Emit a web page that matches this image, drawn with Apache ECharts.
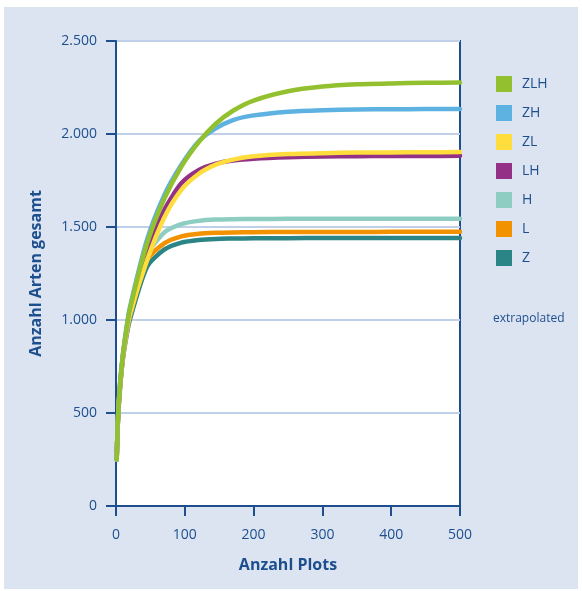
<!DOCTYPE html>
<html>
<head>
<meta charset="utf-8">
<script src="https://cdn.jsdelivr.net/npm/echarts@6/dist/echarts.min.js"></script>
<style>
html,body{margin:0;padding:0;background:#fff;}
#chart{width:582px;height:591px;}
</style>
</head>
<body>
<div id="chart"></div>
<script>
// Data
var plots = [1, 3, 6, 10, 15, 20, 45, 70, 95, 120, 145, 170, 200, 250, 300, 350, 400, 450, 500];
var seriesNames = ['ZLH', 'ZH', 'ZL', 'LH', 'H', 'L', 'Z'];
var ZLH = [250, 485, 660, 810, 945, 1055, 1410, 1650, 1825, 1955, 2055, 2125, 2180, 2230, 2255, 2267, 2272, 2275, 2277];
var ZH  = [250, 490, 665, 815, 955, 1065, 1430, 1670, 1835, 1960, 2030, 2075, 2100, 2120, 2128, 2132, 2133, 2134, 2135];
var ZL  = [250, 480, 650, 800, 930, 1030, 1320, 1550, 1700, 1785, 1835, 1862, 1880, 1892, 1897, 1900, 1901, 1902, 1903];
var LH  = [250, 480, 655, 805, 935, 1040, 1365, 1590, 1735, 1805, 1840, 1857, 1867, 1875, 1879, 1881, 1882, 1882, 1883];
var H   = [250, 478, 648, 798, 925, 1025, 1345, 1470, 1515, 1533, 1540, 1542, 1543, 1544, 1544, 1544, 1544, 1544, 1544];
var L   = [250, 476, 645, 795, 920, 1015, 1320, 1412, 1450, 1464, 1469, 1471, 1472, 1473, 1473, 1473, 1474, 1474, 1474];
var Z   = [250, 472, 640, 790, 910, 1000, 1285, 1378, 1416, 1430, 1436, 1438, 1440, 1440, 1441, 1441, 1441, 1441, 1441];
var seriesColors = ['#93c02f', '#5eb2e1', '#fedd3c', '#933187', '#8ecec2', '#f39200', '#2b8586'];
var yTicks = [0, 500, 1000, 1500, 2000, 2500];
var xTicks = [0, 100, 200, 300, 400, 500];

var seriesData = {ZLH: ZLH, ZH: ZH, ZL: ZL, LH: LH, H: H, L: L, Z: Z};
var textColor = '#1d4f8e';

function fmt(v) {
  var s = String(v);
  if (s.length > 3) s = s.slice(0, s.length - 3) + '.' + s.slice(s.length - 3);
  return s;
}

var series = [];
for (var i = seriesNames.length - 1; i >= 0; i--) {
  var n = seriesNames[i];
  var arr = seriesData[n];
  series.push({
    name: n,
    type: 'line',
    showSymbol: false,
    symbol: 'none',
    smooth: 0.25,
    z: 10 + (seriesNames.length - i),
    lineStyle: {width: 4.5, color: seriesColors[i], cap: 'round', join: 'round'},
    itemStyle: {color: seriesColors[i]},
    data: plots.map(function (x, k) { return [x, arr[k]]; })
  });
}

var chart = echarts.init(document.getElementById('chart'), null, {renderer: 'canvas'});
chart.setOption({
  animation: false,
  backgroundColor: '#ffffff',
  textStyle: {fontFamily: 'Open Sans'},
  graphic: [
    {type: 'rect', z: -10, silent: true, shape: {x: 4, y: 7, width: 574, height: 582}, style: {fill: '#dce4f2'}},
    {type: 'text', left: 493, top: 313, style: {text: 'extrapolated', fill: textColor, font: '12px "Open Sans"'}}
  ],
  grid: {
    left: 116, top: 41, right: 122, bottom: 85,
    show: true, backgroundColor: '#ffffff', borderColor: '#1d4f8e', borderWidth: 2,
    containLabel: false
  },
  legend: {
    orient: 'vertical',
    left: 496, top: 76,
    padding: 0,
    itemWidth: 16, itemHeight: 16, itemGap: 13,
    icon: 'rect',
    data: seriesNames,
    textStyle: {color: textColor, fontSize: 14, fontFamily: 'Open Sans', padding: [0, 0, 0, 5]}
  },
  xAxis: {
    type: 'value', min: 0, max: 500, interval: 100,
    name: 'Anzahl Plots', nameLocation: 'middle', nameGap: 51,
    nameTextStyle: {color: textColor, fontSize: 16, fontWeight: 'bold', fontFamily: 'Open Sans'},
    axisLine: {show: true, lineStyle: {color: '#1d4f8e', width: 2}},
    axisTick: {show: true, length: 10, lineStyle: {color: '#1d4f8e', width: 2}},
    axisLabel: {color: textColor, fontSize: 14, margin: 22, fontFamily: 'Open Sans'},
    splitLine: {show: false}
  },
  yAxis: {
    type: 'value', min: 0, max: 2500, interval: 500,
    name: 'Anzahl Arten gesamt', nameLocation: 'middle', nameGap: 72, nameRotate: 90,
    nameTextStyle: {color: textColor, fontSize: 16, fontWeight: 'bold', fontFamily: 'Open Sans'},
    axisLine: {show: true, lineStyle: {color: '#1d4f8e', width: 2}},
    axisTick: {show: true, length: 10, lineStyle: {color: '#1d4f8e', width: 2}},
    axisLabel: {color: textColor, fontSize: 14, margin: 19, fontFamily: 'Open Sans', formatter: fmt},
    splitLine: {show: true, lineStyle: {color: '#bfd0e8', width: 2}}
  },
  series: series
});
</script>
</body>
</html>
